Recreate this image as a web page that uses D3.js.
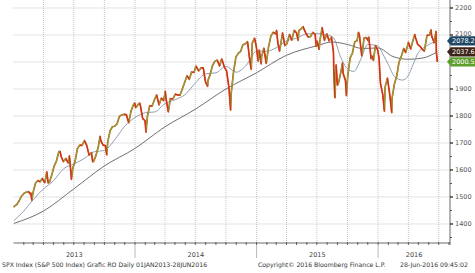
<!DOCTYPE html>
<html><head><meta charset="utf-8">
<script src="https://cdn.jsdelivr.net/npm/d3@7/dist/d3.min.js"></script>
<style>body{margin:0;background:#fff}svg{display:block}</style>
</head><body><svg id="c" width="475" height="273"></svg>
<script>
// ---- DATA ----
const priceDates = [
"2013-01-02","2013-01-04","2013-01-11","2013-01-18","2013-01-25","2013-02-01","2013-02-08","2013-02-15","2013-02-20","2013-02-22","2013-02-25","2013-03-01","2013-03-08","2013-03-15","2013-03-22","2013-03-28","2013-04-05","2013-04-11","2013-04-15","2013-04-19","2013-04-26","2013-05-03","2013-05-10","2013-05-17","2013-05-21","2013-05-24","2013-05-31","2013-06-07","2013-06-14","2013-06-18","2013-06-24","2013-06-28","2013-07-05","2013-07-12","2013-07-19","2013-07-26","2013-08-02","2013-08-09","2013-08-16","2013-08-23","2013-08-27","2013-08-30","2013-09-06","2013-09-13","2013-09-18","2013-09-20","2013-09-27","2013-10-04","2013-10-08","2013-10-11","2013-10-18","2013-10-25","2013-11-01","2013-11-08","2013-11-15","2013-11-22","2013-11-29","2013-12-06","2013-12-13","2013-12-20","2013-12-27","2013-12-31",
"2014-01-03","2014-01-10","2014-01-15","2014-01-17","2014-01-24","2014-01-31","2014-02-03","2014-02-07","2014-02-14","2014-02-21","2014-02-28","2014-03-07","2014-03-14","2014-03-21","2014-03-28","2014-04-02","2014-04-04","2014-04-11","2014-04-17","2014-04-25","2014-05-02","2014-05-09","2014-05-16","2014-05-23","2014-05-30","2014-06-06","2014-06-13","2014-06-20","2014-06-27","2014-07-03","2014-07-11","2014-07-18","2014-07-25","2014-07-31","2014-08-01","2014-08-07","2014-08-08","2014-08-15","2014-08-22","2014-08-29","2014-09-05","2014-09-12","2014-09-18","2014-09-19","2014-09-26","2014-10-03","2014-10-10","2014-10-15","2014-10-17","2014-10-24","2014-10-31","2014-11-07","2014-11-14","2014-11-21","2014-11-28","2014-12-05","2014-12-12","2014-12-16","2014-12-19","2014-12-26","2014-12-31",
"2015-01-06","2015-01-09","2015-01-15","2015-01-16","2015-01-23","2015-01-30","2015-02-06","2015-02-13","2015-02-20","2015-02-27","2015-03-02","2015-03-06","2015-03-11","2015-03-13","2015-03-20","2015-03-27","2015-04-02","2015-04-10","2015-04-17","2015-04-24","2015-05-01","2015-05-06","2015-05-08","2015-05-15","2015-05-21","2015-05-22","2015-05-29","2015-06-05","2015-06-12","2015-06-19","2015-06-26","2015-06-29","2015-07-02","2015-07-08","2015-07-10","2015-07-17","2015-07-24","2015-07-31","2015-08-07","2015-08-14","2015-08-20","2015-08-21","2015-08-24","2015-08-25","2015-08-26","2015-08-28","2015-09-01","2015-09-04","2015-09-11","2015-09-16","2015-09-18","2015-09-25","2015-09-28","2015-10-02","2015-10-09","2015-10-16","2015-10-23","2015-10-30","2015-11-03","2015-11-06","2015-11-13","2015-11-20","2015-11-27","2015-12-02","2015-12-04","2015-12-11","2015-12-14","2015-12-18","2015-12-24","2015-12-31",
"2016-01-04","2016-01-08","2016-01-15","2016-01-20","2016-01-22","2016-01-29","2016-02-05","2016-02-11","2016-02-12","2016-02-19","2016-02-26","2016-03-04","2016-03-11","2016-03-18","2016-03-24","2016-04-01","2016-04-08","2016-04-15","2016-04-20","2016-04-22","2016-04-29","2016-05-06","2016-05-13","2016-05-19","2016-05-27","2016-06-03","2016-06-08","2016-06-10","2016-06-16","2016-06-17","2016-06-23","2016-06-24","2016-06-27"];
const priceValues = [
1462,1466,1472,1486,1503,1513,1518,1520,1511,1515,1488,1518,1551,1561,1556,1569,1553,1593,1552,1555,1582,1614,1633,1667,1669,1650,1631,1643,1626,1652,1565,1606,1632,1680,1692,1691,1709,1691,1655,1664,1630,1633,1655,1688,1725,1710,1692,1690,1656,1703,1745,1760,1762,1771,1798,1804,1806,1805,1775,1818,1841,1848,
1831,1842,1848,1839,1790,1783,1740,1797,1838,1836,1859,1878,1841,1866,1857,1891,1865,1815,1864,1863,1881,1878,1877,1900,1924,1949,1936,1963,1961,1985,1967,1978,1978,1931,1925,1910,1931,1955,1988,2003,2007,1985,2011,2010,1982,1967,1906,1822,1886,1964,2018,2032,2039,2064,2067,2075,2002,1973,2070,2088,2059,
2003,2044,1993,2019,2051,1995,2055,2096,2110,2104,2117,2071,2040,2053,2108,2061,2067,2102,2081,2117,2108,2080,2116,2123,2131,2126,2107,2092,2094,2110,2102,2058,2077,2047,2077,2127,2080,2104,2078,2092,2036,1971,1870,1868,1940,1989,1914,1921,1961,1996,1958,1931,1875,1951,2015,2033,2075,2079,2110,2099,2023,2089,2090,2079,2092,2012,2022,2006,2061,2044,
2013,1922,1880,1818,1907,1940,1880,1812,1865,1918,1948,2000,2022,2050,2035,2073,2048,2081,2102,2092,2065,2058,2047,2040,2099,2099,2119,2096,2077,2071,2113,2037,2000.5];

const ma50Dates = ["2013-01-02","2013-02-01","2013-03-01","2013-04-01","2013-05-01","2013-06-01","2013-07-01","2013-08-01","2013-09-01","2013-10-01","2013-11-01","2013-12-01","2014-01-01","2014-02-01","2014-03-01","2014-04-01","2014-05-01","2014-06-01","2014-07-01","2014-08-01","2014-09-01","2014-10-01","2014-11-01","2014-12-01","2015-01-01","2015-02-01","2015-03-01","2015-04-01","2015-05-01","2015-06-01","2015-07-01","2015-08-01","2015-08-20","2015-09-10","2015-10-01","2015-10-20","2015-11-10","2015-12-01","2015-12-31","2016-01-15","2016-02-01","2016-02-20","2016-03-15","2016-04-01","2016-04-15","2016-05-01","2016-05-20","2016-06-10","2016-06-27"];
const ma50Values = [1412,1448,1490,1530,1560,1605,1622,1642,1668,1672,1712,1762,1794,1812,1815,1846,1860,1880,1922,1956,1960,1984,1962,1988,2040,2040,2053,2078,2088,2104,2105,2100,2090,2020,1975,1965,2010,2065,2060,2030,1990,1945,1933,1950,1990,2035,2055,2070,2078.2];

const ma200Dates = ["2013-01-02","2013-04-01","2013-07-01","2013-10-01","2014-01-01","2014-04-01","2014-07-01","2014-10-01","2015-01-01","2015-04-01","2015-07-01","2015-08-15","2015-10-01","2015-11-15","2016-01-01","2016-02-15","2016-04-01","2016-05-15","2016-06-27"];
const ma200Values = [1402,1448,1530,1615,1680,1760,1825,1900,1960,2025,2060,2074,2065,2050,2052,2020,2010,2015,2037.6];

const yTickValues = [1400,1500,1600,1700,1800,1900,2000,2100,2200];
const yearLabels = ["2013","2014","2015","2016"];
const lastValues = [2078.2, 2037.6, 2000.5];
const footerLeft = "SPX Index (S&P 500 Index) Grafic RO  Daily 01JAN2013-28JUN2016";
const footerMid = "Copyright\u00A9 2016 Bloomberg Finance L.P.";
const footerRight = "28-Jun-2016 09:45:02";

// ---- DRAW ----
(function(){
const parse = d3.timeParse("%Y-%m-%d");
const svg = d3.select("#c");
svg.append("rect").attr("width",475).attr("height",273).attr("fill","#fff");
const font = "DejaVu Sans, Verdana, sans-serif";

const pL = 13.5, pR = 450, pT = 0, pB = 243;
const x = d3.scaleTime().domain([new Date(2013,0,1), new Date(2016,7,4)]).range([pL, pR]);
const y = d3.scaleLinear().domain([1329.6, 2229.6]).range([pB, pT]);

// grid
const grid = svg.append("g");
const quarters = d3.timeMonth.every(3).range(new Date(2013,0,2), new Date(2016,7,4));
grid.selectAll("line.v").data(quarters).enter().append("line")
  .attr("x1",d=>x(d)).attr("x2",d=>x(d)).attr("y1",pT).attr("y2",pB)
  .attr("stroke","#b8b8b8").attr("stroke-width",0.8).attr("stroke-dasharray","1,1");
grid.selectAll("line.h").data(yTickValues).enter().append("line")
  .attr("x1",pL).attr("x2",pR).attr("y1",d=>y(d)).attr("y2",d=>y(d))
  .attr("stroke","#b8b8b8").attr("stroke-width",0.8).attr("stroke-dasharray","1,1");

// MAs
const smooth = d3.line().curve(d3.curveMonotoneX).x(d=>x(d[0])).y(d=>y(d[1]));
svg.append("path").datum(ma200Dates.map((d,i)=>[parse(d),ma200Values[i]]))
  .attr("d",smooth).attr("fill","none").attr("stroke","#606060").attr("stroke-width",0.9);
svg.append("path").datum(ma50Dates.map((d,i)=>[parse(d),ma50Values[i]]))
  .attr("d",smooth).attr("fill","none").attr("stroke","#8395a8").attr("stroke-width",0.9);

// price: red-orange body, green on rising moves
const pts = priceDates.map((d,i)=>[parse(d),priceValues[i]]);
const segs = d3.pairs(pts);
svg.append("path").datum(pts)
  .attr("d",d3.line().x(d=>x(d[0])).y(d=>y(d[1])))
  .attr("fill","none").attr("stroke","#d9481c").attr("stroke-width",1.7).attr("stroke-linejoin","round");
svg.append("g").selectAll("line").data(segs.filter(s=>s[1][1]>s[0][1])).enter().append("line")
  .attr("x1",d=>x(d[0][0])).attr("y1",d=>y(d[0][1]))
  .attr("x2",d=>x(d[1][0])).attr("y2",d=>y(d[1][1]))
  .attr("stroke","#7fae3a").attr("stroke-width",1.1).attr("stroke-linecap","butt");
svg.append("g").selectAll("line").data(segs.filter(s=>s[1][1]<=s[0][1])).enter().append("line")
  .attr("x1",d=>x(d[0][0])).attr("y1",d=>y(d[0][1]))
  .attr("x2",d=>x(d[1][0])).attr("y2",d=>y(d[1][1]))
  .attr("stroke","#d2301a").attr("stroke-width",1.1).attr("stroke-linecap","butt");

// x axis
const xa = svg.append("g");
xa.append("line").attr("x1",pL).attr("x2",pR).attr("y1",pB).attr("y2",pB)
  .attr("stroke","#444").attr("stroke-width",0.8);
const months = d3.timeMonth.range(new Date(2013,0,2), new Date(2016,7,4));
xa.selectAll("line.m").data(months).enter().append("line")
  .attr("x1",d=>x(d)).attr("x2",d=>x(d)).attr("y1",pB-1).attr("y2",pB+2)
  .attr("stroke","#444").attr("stroke-width",0.8);
const yearStarts = [new Date(2014,0,1),new Date(2015,0,1),new Date(2016,0,1)];
xa.selectAll("line.y").data(yearStarts).enter().append("line")
  .attr("x1",d=>x(d)).attr("x2",d=>x(d)).attr("y1",pB+2).attr("y2",pB+15)
  .attr("stroke","#aaa").attr("stroke-width",0.8);
xa.selectAll("text").data(yearLabels).enter().append("text")
  .attr("x",(d,i)=>{const s=new Date(+d,0,1), e=new Date(+d+1,0,1); return i<3?(x(s)+x(e))/2:x(s)+36;})
  .attr("y",257).attr("text-anchor","middle").attr("font-family",font).attr("font-size",6.5).attr("fill","#444").text(d=>d);

// y axis (the 2000 label sits fully under the last-price tag in the reference)
const ya = svg.append("g");
ya.append("line").attr("x1",pR).attr("x2",pR).attr("y1",pT).attr("y2",pB+2)
  .attr("stroke","#444").attr("stroke-width",0.8);
ya.selectAll("line.t").data(d3.range(1350,2230,50)).enter().append("line")
  .attr("x1",pR).attr("x2",d=>d%100===0?pR+3:pR+2).attr("y1",d=>y(d)).attr("y2",d=>y(d))
  .attr("stroke","#333").attr("stroke-width",d=>d%100===0?1.4:0.8);
ya.selectAll("text").data(yTickValues.filter(v=>v!==2000)).enter().append("text")
  .attr("x",pR+5).attr("y",d=>y(d)).attr("dy",d=>d===2100?"0.1em":"0.35em")
  .attr("font-family",font).attr("font-size",6.5).attr("fill","#555").text(d=>d);

// last-value tags
const tagColors = ["#1f4866","#3d2318","#5e9e2c"];
const tags = svg.append("g").selectAll("g").data(lastValues).enter().append("g")
  .attr("transform",d=>`translate(0,${y(d)})`);
tags.append("path").attr("d","M447,0 L451,-4.6 L476,-4.6 L476,4.6 L451,4.6 Z")
  .attr("fill",(d,i)=>tagColors[i]);
tags.append("text").attr("x",452).attr("dy","0.35em").attr("font-family",font)
  .attr("font-size",6.5).attr("fill","#fff").text(d=>d.toFixed(1));

// footer
svg.append("text").attr("x",2).attr("y",267).attr("font-family",font).attr("font-size",6.2)
  .attr("fill","#333").text(footerLeft);
svg.append("text").attr("x",258).attr("y",267).attr("font-family",font).attr("font-size",6.2)
  .attr("fill","#333").text(footerMid);
svg.append("text").attr("x",400).attr("y",267).attr("font-family",font).attr("font-size",6.2)
  .attr("fill","#333").text(footerRight);
})();
</script></body></html>
